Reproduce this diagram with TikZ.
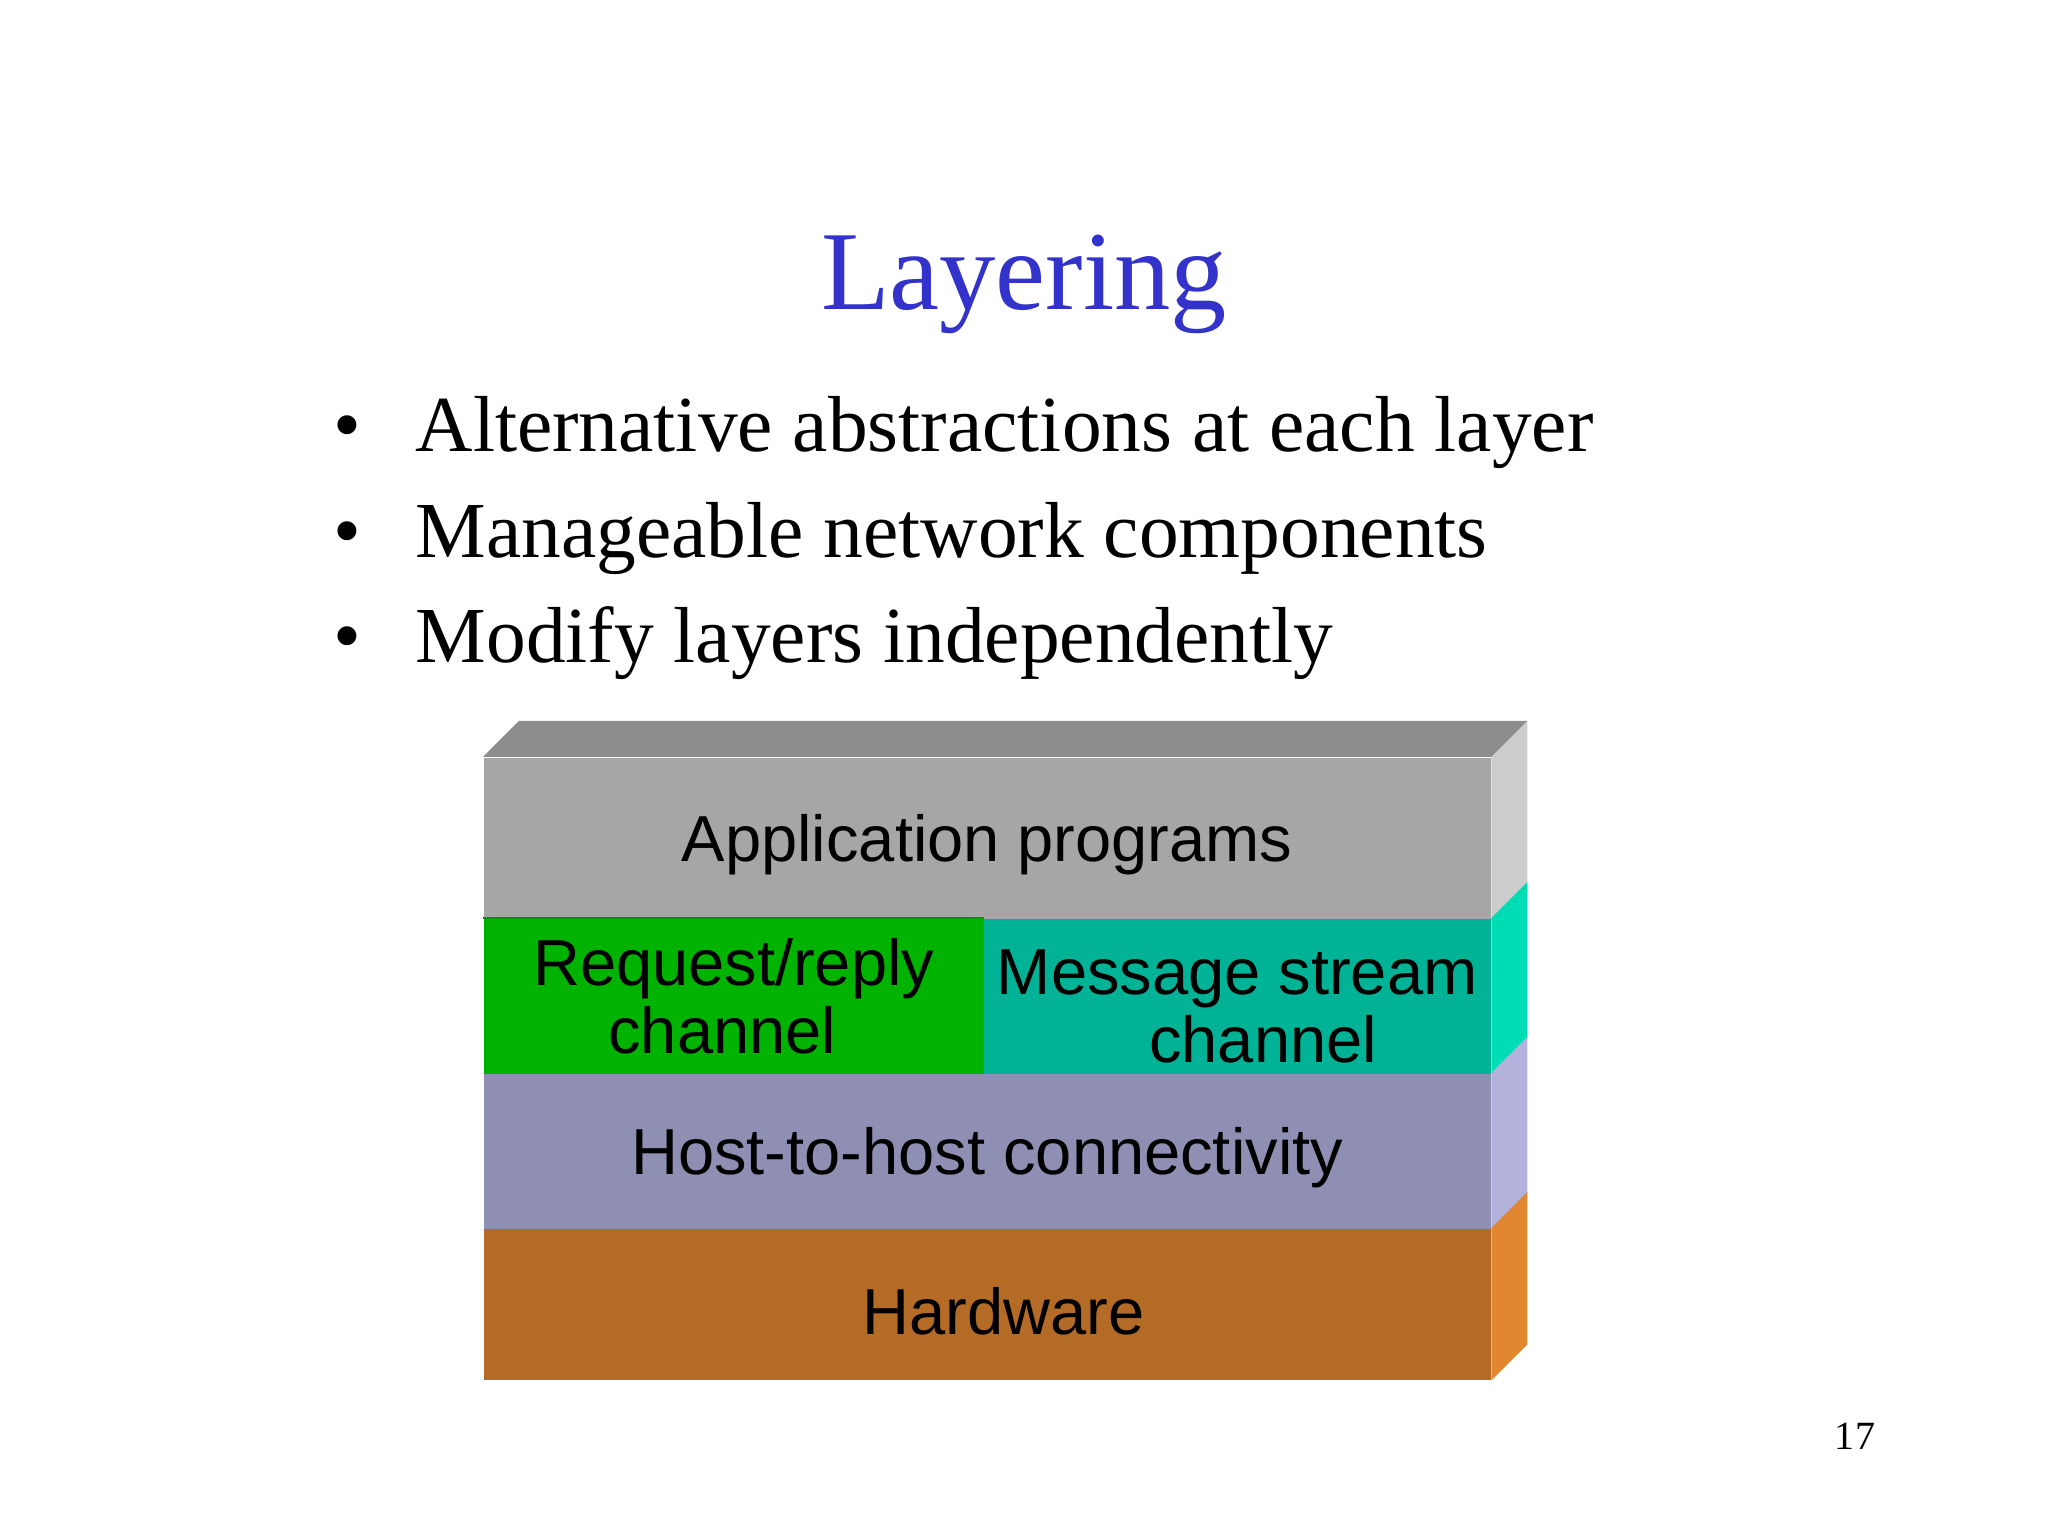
\documentclass[tikz,border=0pt]{standalone}
\usepackage{fontspec}
\setmainfont{Liberation Serif}
\newfontfamily\arial{Liberation Sans}
\usepackage{tikz}
\usetikzlibrary{positioning}
\definecolor{titleblue}{RGB}{51,51,204}
\definecolor{topgray}{RGB}{140,140,140}
\definecolor{appfront}{RGB}{166,166,166}
\definecolor{appside}{RGB}{204,204,204}
\definecolor{rrfront}{RGB}{0,179,0}
\definecolor{msfront}{RGB}{0,179,150}
\definecolor{msside}{RGB}{0,221,181}
\definecolor{hostfront}{RGB}{143,143,179}
\definecolor{hostside}{RGB}{178,178,221}
\definecolor{hwfront}{RGB}{179,107,38}
\definecolor{hwside}{RGB}{224,135,47}
\tikzset{
  slab/.style={rectangle, inner sep=0pt, anchor=north west, minimum width=10.07cm,
               text depth=0pt, font={\arial\fontsize{18.5}{19.3}\selectfont}, align=center},
  bul/.style={anchor=base west, inner sep=0pt, font={\fontsize{22.6}{27}\selectfont}},
  bdot/.style={anchor=base, inner sep=0pt, font={\fontsize{22.6}{27}\selectfont}}
}

\begin{document}
\begin{tikzpicture}
        \useasboundingbox (0,0) rectangle (20.48,15.36);
        \node[anchor=base, text=titleblue, font={\fontsize{32}{38}\selectfont}] (title) at (10.24,12.26) {Layering};
        \foreach \t [count=\i] in {Alternative abstractions at each layer,
                                   Manageable network components,
                                   Modify layers independently} {
          \node[bul] (b\i) at (4.15,{10.84-(\i-1)*1.055}) {\t};
          \node[bdot] (d\i) at (3.47,{10.84-(\i-1)*1.055}) {\textbullet};
        }
        % protocol stack
        \node[slab, fill=appfront, minimum height=1.61cm] (app) at (4.83,7.79) {Application programs};
        \node[slab, fill=rrfront, minimum width=5.0cm, minimum height=1.55cm] (rr) at (4.83,6.18) {Request/reply\\channel\hspace*{0.35em}};
        \node[slab, fill=msfront, minimum width=5.07cm, minimum height=1.55cm, text height=1.32cm] (ms) at (9.83,6.18) {Message stream\\\hspace*{0.8em}channel};
        \node[slab, fill=hostfront, minimum height=1.55cm] (host) at (4.83,4.63) {Host-to-host connectivity};
        \node[slab, fill=hwfront, minimum height=1.51cm, text height=0.6cm] (hw) at (4.83,3.08) {\hspace*{0.5em}Hardware};
        \draw[rrfront!85!black, line width=0.6pt] (rr.north west) -- (rr.north east);
        \fill[topgray] (app.north west) -- ++(0.36,0.36) -- ([shift={(0.36,0.36)}]app.north east) -- (app.north east) -- cycle;
        \foreach \n/\c in {app/appside, ms/msside, host/hostside, hw/hwside}
          \fill[\c] (\n.north east) -- ++(0.36,0.36) -- ([shift={(0.36,0.36)}]\n.south east) -- (\n.south east) -- cycle;
        \node[anchor=base, font={\fontsize{11.4}{13}\selectfont}] (page) at (18.55,0.86) {17};
      \end{tikzpicture}
\end{document}
